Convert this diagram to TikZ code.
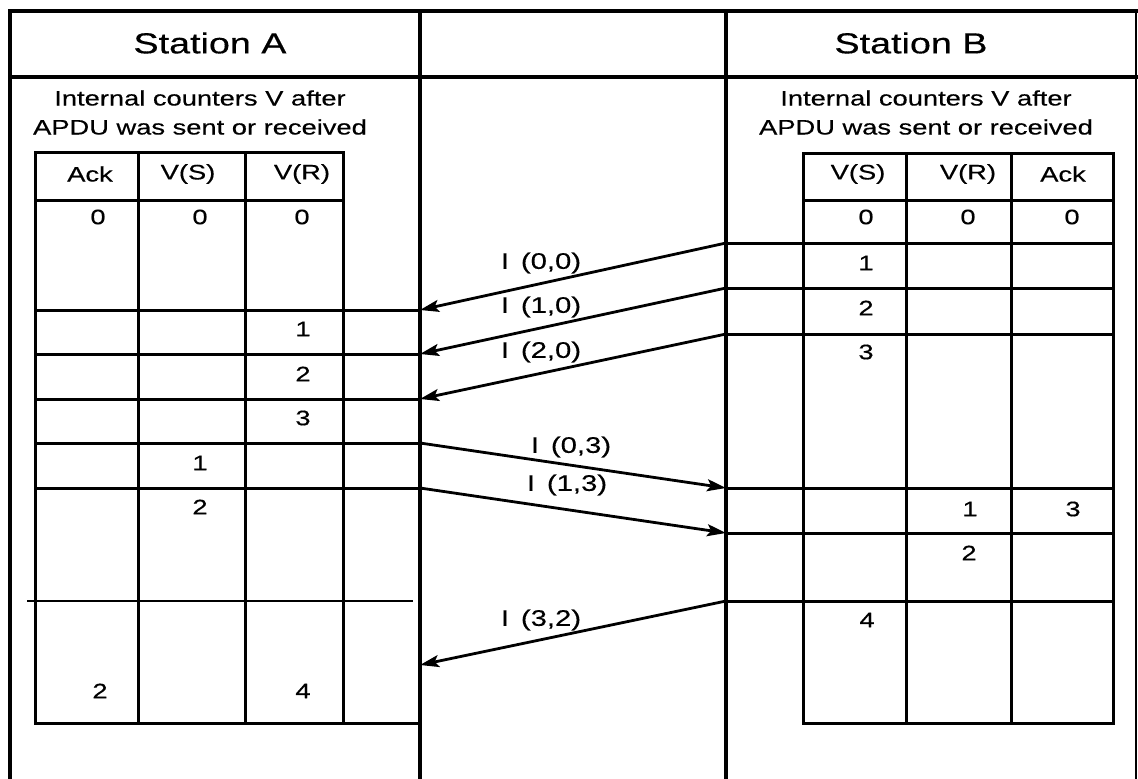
\documentclass[tikz,border=0pt]{standalone}
\usepackage{fontspec}
\setmainfont{Liberation Sans}[FakeStretch=1.3,FakeBold=0.4]
\usetikzlibrary{arrows.meta}
\tikzset{
  frame/.style={line width=3.2pt, line cap=rect},
  grid/.style={line width=3pt, line cap=rect},
  thinrule/.style={line width=2pt},
  msg/.style={line width=2.8pt, -{Stealth[length=19pt,width=12pt,inset=4pt]}},
  val/.style={font=\fontsize{21}{25}\selectfont, inner sep=0pt},
  ttl/.style={font=\fontsize{29}{34}\selectfont, inner sep=0pt},
  lbl/.style={font=\fontsize{22.5}{27}\selectfont, inner sep=0pt},
}
\begin{document}
\begin{tikzpicture}[x=1pt,y=-1pt]
\useasboundingbox (0,0) rectangle (1138,779);

% ---------- outer frame ----------
\draw[frame] (10,779) -- (10,11) -- (1136,11);
\draw[line width=2pt] (1136,11) -- (1136,779);
\draw[frame] (10,77) -- (1136,77);
\draw[frame] (420,11) -- (420,779);
\draw[frame] (726,11) -- (726,779);

\node[ttl] (titleA) at (210,43) {Station A};
\node[ttl] (titleB) at (911,43) {Station B};

\node[val] (intA1) at (200,98) {Internal counters V after};
\node[val] (intA2) at (200,127) {APDU was sent or received};
\node[val] (intB1) at (926,98) {Internal counters V after};
\node[val] (intB2) at (926,127) {APDU was sent or received};

% ---------- table of station A ----------
\draw[grid] (35,152) -- (343,152);
\draw[grid] (35,200) -- (343,200);
\foreach \x in {35,138,245,343} \draw[grid] (\x,152) -- (\x,723);
\foreach \y in {310,354,399,443,488,723} \draw[grid] (35,\y) -- (420,\y);
\draw[thinrule] (27,601) -- (413,601);

\node[val] (hAck)  at (90,174)  {Ack};
\node[val] (hAVS)  at (188,174) {V(S)};
\node[val] (hAVR)  at (302,174) {V(R)};
\node[val] (a00) at (98,217)  {0};
\node[val] (a01) at (200,217) {0};
\node[val] (a02) at (302,217) {0};
\node[val] (a12) at (303,329) {1};
\node[val] (a22) at (303,374) {2};
\node[val] (a32) at (303,418) {3};
\node[val] (a41) at (200,463) {1};
\node[val] (a51) at (200,507) {2};
\node[val] (a60) at (100,691) {2};
\node[val] (a62) at (303,691) {4};

% ---------- table of station B ----------
\draw[grid] (803,153) -- (1113,153);
\draw[grid] (803,200) -- (1113,200);
\foreach \x in {803,906,1011,1113} \draw[grid] (\x,153) -- (\x,723);
\foreach \y in {243,288,334,488,533,601} \draw[grid] (726,\y) -- (1113,\y);
\draw[grid] (803,723) -- (1113,723);

\node[val] (hBVS) at (858,174)  {V(S)};
\node[val] (hBVR) at (968,174)  {V(R)};
\node[val] (hBAck) at (1063,174) {Ack};
\node[val] (b00) at (866,217)  {0};
\node[val] (b01) at (968,217)  {0};
\node[val] (b02) at (1072,217) {0};
\node[val] (b10) at (866,263) {1};
\node[val] (b20) at (866,308) {2};
\node[val] (b30) at (866,352) {3};
\node[val] (b41) at (970,509) {1};
\node[val] (b42) at (1073,509) {3};
\node[val] (b51) at (969,553) {2};
\node[val] (b60) at (867,620) {4};

% ---------- message end points ----------
\coordinate (pa1) at (420,310);
\coordinate (pa2) at (420,354);
\coordinate (pa3) at (420,399);
\coordinate (pa4) at (420,443);
\coordinate (pa5) at (420,488);
\coordinate (pa6) at (420,665);
\coordinate (pb1) at (726,243);
\coordinate (pb2) at (726,288);
\coordinate (pb3) at (726,334);
\coordinate (pb4) at (726,488);
\coordinate (pb5) at (726,533);
\coordinate (pb6) at (726,601);

\draw[msg] (pb1) -- (pa1);
\draw[msg] (pb2) -- (pa2);
\draw[msg] (pb3) -- (pa3);
\draw[msg] (pa4) -- (pb4);
\draw[msg] (pa5) -- (pb5);
\draw[msg] (pb6) -- (pa6);

\node[lbl] (m1) at (541,263) {I\, (0,0)};
\node[lbl] (m2) at (541,307) {I\, (1,0)};
\node[lbl] (m3) at (541,352) {I\, (2,0)};
\node[lbl] (m4) at (571,447) {I\, (0,3)};
\node[lbl] (m5) at (567,485) {I\, (1,3)};
\node[lbl] (m6) at (541,620) {I\, (3,2)};
\end{tikzpicture}
\end{document}
